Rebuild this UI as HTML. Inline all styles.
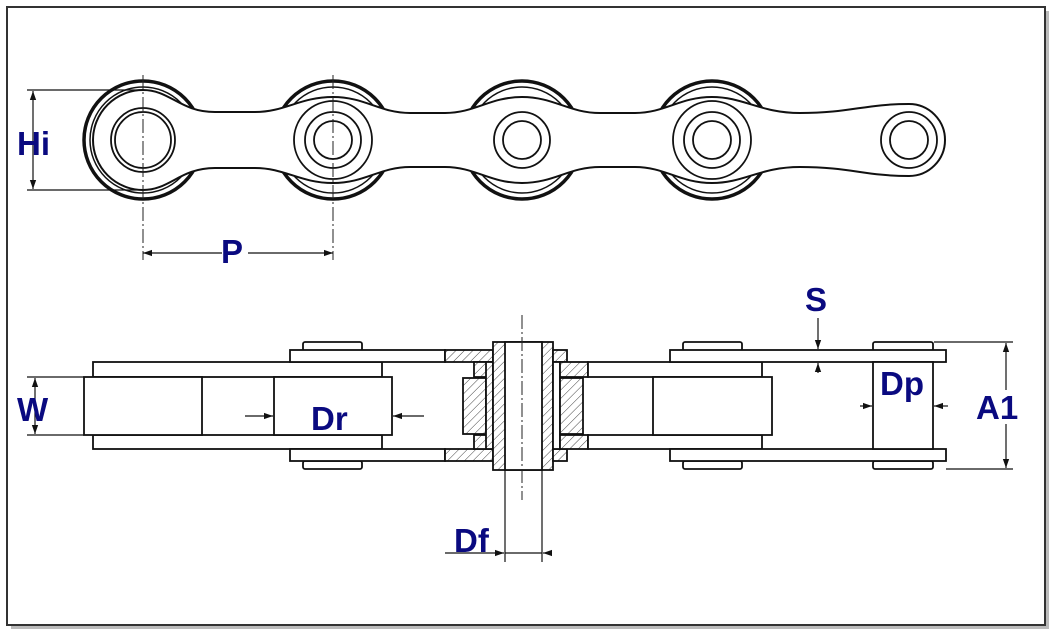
<!DOCTYPE html>
<html><head><meta charset="utf-8"><style>
html,body{margin:0;padding:0;background:#fff;width:1052px;height:632px;overflow:hidden}
svg{display:block}
text{font-family:"Liberation Sans",Arial,sans-serif;font-weight:bold;fill:#0a0a80}
</style></head><body>
<svg width="1052" height="632" viewBox="0 0 1052 632" xmlns="http://www.w3.org/2000/svg">
<defs>
<pattern id="h" width="6" height="6" patternUnits="userSpaceOnUse" patternTransform="rotate(45)">
<rect width="6" height="6" fill="#fff"/><line x1="0" y1="0" x2="0" y2="6" stroke="#444" stroke-width="1"/>
</pattern>
<marker id="a" viewBox="0 0 10 10" refX="10" refY="5" markerWidth="9" markerHeight="9" orient="auto-start-reverse" markerUnits="userSpaceOnUse"><path d="M0,1.5 L10,5 L0,8.5 z" fill="#111"/></marker>
</defs>
<rect x="0" y="0" width="1052" height="632" fill="#fff"/>
<rect x="11" y="11" width="1038" height="618" fill="#bbb"/>
<rect x="7" y="7" width="1038" height="618" fill="#fff" stroke="#333" stroke-width="2"/>

<!-- TOP VIEW -->
<g stroke="#111" fill="#fff">
<circle cx="143" cy="140" r="59" stroke-width="3.5"/>
<circle cx="333" cy="140" r="59" stroke-width="3.5"/>
<circle cx="522" cy="140" r="59" stroke-width="3.5"/>
<circle cx="712" cy="140" r="59" stroke-width="3.5"/>
<circle cx="143" cy="140" r="53" stroke-width="1.5"/>
<circle cx="333" cy="140" r="53" stroke-width="1.5"/>
<circle cx="522" cy="140" r="53" stroke-width="1.5"/>
<circle cx="712" cy="140" r="53" stroke-width="1.5"/>
<path stroke-width="2" d="M143,90 C170,90 180,112 215,112 L255,112 C285,112 300,97 333,97 C365,97 380,113 410,113 L445,113 C475,113 490,97 522,97 C554,97 569,113 600,113 L635,113 C665,113 680,97 712,97 C744,97 760,113 800,113 C850,113 865,104 909,104 A36,36 0 0 1 909,176 C865,176 850,167 800,167 C760,167 744,183 712,183 C680,183 665,167 635,167 L600,167 C569,167 554,183 522,183 C490,183 475,167 445,167 L410,167 C380,167 365,183 333,183 C300,183 285,168 255,168 L215,168 C180,168 170,190 143,190 A50,50 0 0 1 143,90 Z"/>
<circle cx="143" cy="140" r="32" stroke-width="1.8"/>
<circle cx="143" cy="140" r="28" stroke-width="1.8"/>
<circle cx="333" cy="140" r="39" stroke-width="1.8"/>
<circle cx="333" cy="140" r="28" stroke-width="1.8"/>
<circle cx="333" cy="140" r="19" stroke-width="1.8"/>
<circle cx="522" cy="140" r="28" stroke-width="1.8"/>
<circle cx="522" cy="140" r="19" stroke-width="1.8"/>
<circle cx="712" cy="140" r="39" stroke-width="1.8"/>
<circle cx="712" cy="140" r="28" stroke-width="1.8"/>
<circle cx="712" cy="140" r="19" stroke-width="1.8"/>
<circle cx="909" cy="140" r="28" stroke-width="1.8"/>
<circle cx="909" cy="140" r="19" stroke-width="1.8"/>
</g>
<g stroke="#222" stroke-width="1" stroke-dasharray="14,3,2,3" fill="none">
<line x1="143" y1="75" x2="143" y2="260"/>
<line x1="333" y1="75" x2="333" y2="260"/>
</g>
<g stroke="#111" stroke-width="1.2" fill="none">
<line x1="27" y1="90" x2="143" y2="90"/><line x1="27" y1="190" x2="143" y2="190"/>
<line x1="33" y1="91" x2="33" y2="189" marker-start="url(#a)" marker-end="url(#a)"/>
<line x1="143" y1="253" x2="222" y2="253" marker-start="url(#a)"/>
<line x1="248" y1="253" x2="333" y2="253" marker-end="url(#a)"/>
</g>
<text x="17" y="155" font-size="33">Hi</text>
<text x="221" y="263" font-size="33">P</text>

<!-- BOTTOM VIEW -->
<g stroke="#111" stroke-width="1.8" fill="#fff">
<rect x="93" y="362" width="289" height="15"/>
<rect x="93" y="435" width="289" height="14"/>
<rect x="84" y="377" width="118" height="58"/>
<rect x="274" y="377" width="118" height="58"/>
<rect x="303" y="342" width="59" height="9" rx="2"/>
<rect x="303" y="461" width="59" height="8" rx="2"/>
<rect x="290" y="350" width="155" height="12"/>
<rect x="290" y="449" width="155" height="12"/>
<rect x="445" y="350" width="48" height="12" fill="url(#h)"/>
<rect x="445" y="449" width="48" height="12" fill="url(#h)"/>
<rect x="474" y="362" width="19" height="15" fill="url(#h)"/>
<rect x="474" y="435" width="19" height="14" fill="url(#h)"/>
<rect x="463" y="378" width="23" height="56" fill="url(#h)"/>
<rect x="486" y="362" width="7" height="87" fill="url(#h)"/>
<rect x="493" y="342" width="60" height="128" fill="url(#h)"/>
<rect x="505" y="342" width="37" height="128" fill="#fff"/>
<rect x="553" y="350" width="14" height="12" fill="url(#h)"/>
<rect x="553" y="449" width="14" height="12" fill="url(#h)"/>
<rect x="553" y="362" width="7" height="87" fill="#fff"/>
<rect x="560" y="362" width="28" height="15" fill="url(#h)"/>
<rect x="560" y="435" width="28" height="14" fill="url(#h)"/>
<rect x="560" y="378" width="23" height="56" fill="url(#h)"/>
<rect x="588" y="362" width="174" height="15"/>
<rect x="588" y="435" width="174" height="14"/>
<rect x="653" y="377" width="119" height="58"/>
<rect x="683" y="342" width="59" height="9" rx="2"/>
<rect x="683" y="461" width="59" height="8" rx="2"/>
<rect x="873" y="342" width="60" height="9" rx="2"/>
<rect x="873" y="461" width="60" height="8" rx="2"/>
<rect x="670" y="350" width="276" height="12"/>
<rect x="670" y="449" width="276" height="12"/>
<rect x="873" y="362" width="60" height="87"/>
</g>
<line x1="522" y1="315" x2="522" y2="500" stroke="#222" stroke-width="1" stroke-dasharray="14,3,2,3"/>
<g stroke="#111" stroke-width="1.2" fill="none">
<line x1="27" y1="377" x2="84" y2="377"/><line x1="27" y1="435" x2="84" y2="435"/>
<line x1="35" y1="378" x2="35" y2="434" marker-start="url(#a)" marker-end="url(#a)"/>
<line x1="245" y1="416" x2="273" y2="416" marker-end="url(#a)"/>
<line x1="424" y1="416" x2="393" y2="416" marker-end="url(#a)"/>
<line x1="818" y1="318" x2="818" y2="349" marker-end="url(#a)"/>
<line x1="818" y1="373" x2="818" y2="363" marker-end="url(#a)"/>
<line x1="860" y1="406" x2="872" y2="406" marker-end="url(#a)"/>
<line x1="948" y1="406" x2="934" y2="406" marker-end="url(#a)"/>
<line x1="934" y1="342" x2="1013" y2="342"/><line x1="946" y1="469" x2="1013" y2="469"/>
<line x1="1006" y1="343" x2="1006" y2="390" marker-start="url(#a)"/>
<line x1="1006" y1="424" x2="1006" y2="468" marker-end="url(#a)"/>
<line x1="505" y1="470" x2="505" y2="562"/><line x1="542" y1="470" x2="542" y2="562"/>
<line x1="445" y1="553" x2="504" y2="553" marker-end="url(#a)"/>
<line x1="552" y1="553" x2="543" y2="553" marker-end="url(#a)"/>
<line x1="505" y1="553" x2="542" y2="553"/>
</g>
<text x="17" y="421" font-size="33">W</text>
<text x="311" y="430" font-size="33">Dr</text>
<text x="805" y="311" font-size="33">S</text>
<text x="880" y="395" font-size="33">Dp</text>
<text x="976" y="419" font-size="33">A1</text>
<text x="454" y="552" font-size="33">Df</text>
</svg>
</body></html>
